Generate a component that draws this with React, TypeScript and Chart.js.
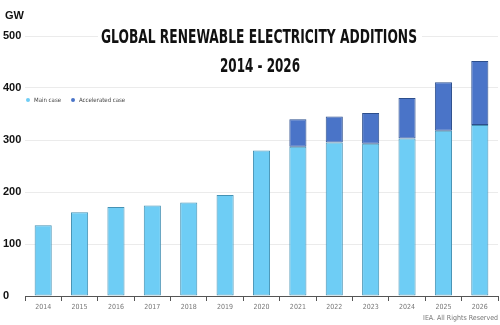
import React, { useEffect, useRef } from "react";
import { Chart, registerables } from "chart.js";

Chart.register(...registerables);

const years = ["2014","2015","2016","2017","2018","2019","2020","2021","2022","2023","2024","2025","2026"];
const mainCase = [136, 161, 171, 174, 180, 194, 280, 287, 295, 293, 303, 318, 329];
const acceleratedCase = [null, null, null, null, null, null, null, 53, 50, 59, 78, 93, 123];
const yTicks = [0, 100, 200, 300, 400, 500];
const titleLines = ["GLOBAL RENEWABLE ELECTRICITY ADDITIONS", "2014 - 2026"];
const unitLabel = "GW";
const sourceNote = "IEA. All Rights Reserved";

const NARROW = "'Liberation Sans Narrow', 'DejaVu Sans Condensed', 'Liberation Sans', sans-serif";

const overlayPlugin = {
  id: "overlay",
  afterDraw(chart: any) {
    const ctx = chart.ctx;
    ctx.save();
    ctx.fillStyle = "#ffffff";
    ctx.fillRect(98, 27, 324, 20);
    ctx.fillStyle = "#111111";
    ctx.textAlign = "center";
    ctx.textBaseline = "middle";
    const drawFit = (text: string, cx: number, cy: number, w: number) => {
      ctx.font = "bold 20px " + NARROW;
      const m = ctx.measureText(text).width;
      const s = Math.min(1, w / m);
      ctx.save();
      ctx.translate(cx, cy);
      ctx.scale(s, 1);
      ctx.fillText(text, 0, 0);
      ctx.restore();
    };
    drawFit(titleLines[0], 259, 38, 316);
    drawFit(titleLines[1], 260, 67, 80);

    ctx.font = "bold 11px 'Liberation Sans', sans-serif";
    ctx.textAlign = "left";
    ctx.fillStyle = "#111111";
    ctx.fillText(unitLabel, 5, 16);

    ctx.font = "6px " + NARROW;
    let x = 28;
    chart.data.datasets.forEach((ds: any) => {
      ctx.fillStyle = ds.backgroundColor;
      ctx.beginPath();
      ctx.arc(x, 100, 2, 0, Math.PI * 2);
      ctx.fill();
      ctx.fillStyle = "#444444";
      ctx.textAlign = "left";
      ctx.fillText(ds.label, x + 6, 100);
      x += 6 + ctx.measureText(ds.label).width + 12;
    });

    ctx.font = "7px " + NARROW;
    ctx.textAlign = "right";
    ctx.fillStyle = "#777777";
    ctx.fillText(sourceNote, 498, 318);
    ctx.restore();
  },
};

export default function App() {
  const ref = useRef<HTMLCanvasElement>(null);
  useEffect(() => {
    document.body.style.margin = "0";
    const chart = new Chart(ref.current as HTMLCanvasElement, {
      type: "bar",
      data: {
        labels: years,
        datasets: [
          {
            label: "Main case",
            data: mainCase,
            backgroundColor: "#6ECDF5",
            borderColor: "#4592B4",
            borderWidth: 1,
            borderSkipped: false,
            barPercentage: 0.47,
            categoryPercentage: 1,
          },
          {
            label: "Accelerated case",
            data: acceleratedCase as any,
            backgroundColor: "#4A74C8",
            borderColor: "#2C4E8C",
            borderWidth: 1,
            borderSkipped: false,
            barPercentage: 0.47,
            categoryPercentage: 1,
          },
        ],
      },
      options: {
        responsive: false,
        animation: false,
        layout: { padding: { top: 36, left: 3, right: 2, bottom: 0 } },
        plugins: { legend: { display: false }, title: { display: false }, tooltip: { enabled: false } },
        scales: {
          x: {
            stacked: true,
            afterFit(scale: any) { scale.height = 29; },
            grid: { display: true, offset: true, drawOnChartArea: false, drawTicks: true, tickLength: 5, color: "#555555" },
            border: { display: true, color: "#555555", width: 1 },
            ticks: { font: { size: 7, family: NARROW }, color: "#777777", padding: 2, maxRotation: 0 },
          },
          y: {
            stacked: true,
            min: 0,
            max: 500,
            afterFit(scale: any) { scale.width = 22; },
            afterBuildTicks(scale: any) { scale.ticks = yTicks.map((v) => ({ value: v })); },
            grid: { color: "#EBEBEB", drawTicks: false },
            border: { display: false },
            ticks: {
              font: { size: 11, weight: "bold", family: "'Liberation Sans', sans-serif" },
              color: "#111111",
              crossAlign: "far",
              padding: 0,
            },
          },
        },
      },
      plugins: [overlayPlugin],
    });
    return () => chart.destroy();
  }, []);
  return <canvas ref={ref} width={500} height={325} style={{ display: "block" }} />;
}
